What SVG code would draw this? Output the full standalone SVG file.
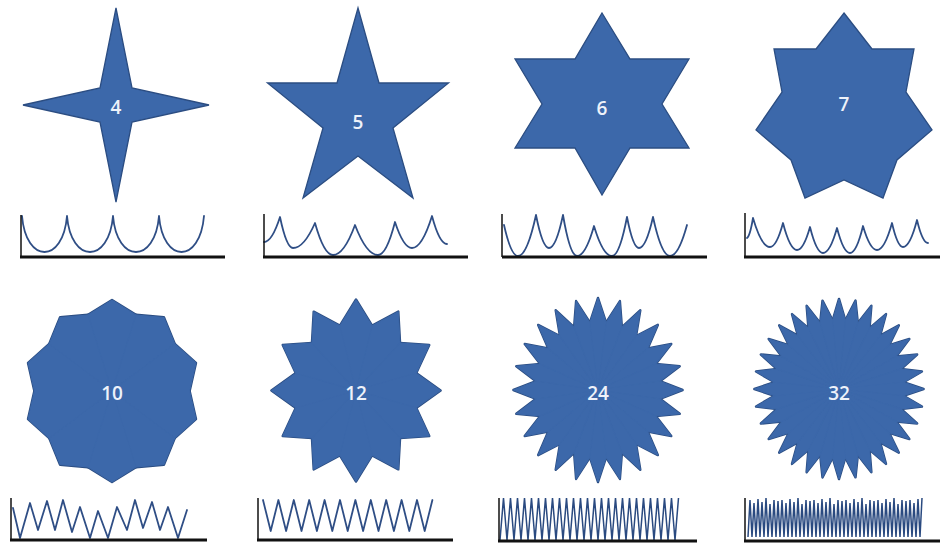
<svg xmlns="http://www.w3.org/2000/svg" xmlns:xlink="http://www.w3.org/1999/xlink" width="940" height="545" viewBox="0 0 940 545">
<style>
.st{fill:#3C68AA;stroke:#2B4D82;stroke-width:1.3;stroke-linejoin:miter}
.ol{fill:#2B4D82;stroke:#2B4D82;stroke-width:2.6;stroke-linejoin:round}
.fl{fill:#3C68AA;stroke:#3C68AA;stroke-width:1;stroke-linejoin:round}
.lbl{font-family:"Open Sans","Liberation Sans",Arial,sans-serif;font-size:19px;font-weight:600;fill:#EEF2FA;text-anchor:middle}
.crv{fill:none;stroke:#2F4E85;stroke-width:1.8;stroke-linejoin:round;stroke-linecap:round}
.dense{fill:none;stroke:#2A4A80;stroke-width:1.5;stroke-linejoin:miter}
.ax{fill:none;stroke:#111;stroke-width:3}
.ay{fill:none;stroke:#111;stroke-width:1.5}
</style>
<defs>
<polygon id="k10" points="0,-91 24.72,-76.09 0,0 -24.72,-76.09"/>
<polygon id="k12" points="0,-91 17.34,-64.73 0,0 -17.34,-64.73"/>
<polygon id="k24" points="0,-92 8.87,-67.42 0,0 -8.87,-67.42"/>
<polygon id="k32" points="0,-90 6.76,-68.67 0,0 -6.76,-68.67"/>
<g id="h10"><use href="#k10"/><use href="#k10" transform="rotate(36)"/><use href="#k10" transform="rotate(72)"/><use href="#k10" transform="rotate(108)"/><use href="#k10" transform="rotate(144)"/></g>
<g id="s10"><use href="#h10"/><use href="#h10" transform="rotate(180)"/></g>
<g id="q12"><use href="#k12"/><use href="#k12" transform="rotate(30)"/><use href="#k12" transform="rotate(60)"/></g>
<g id="s12"><use href="#q12"/><use href="#q12" transform="rotate(90)"/><use href="#q12" transform="rotate(180)"/><use href="#q12" transform="rotate(270)"/></g>
<g id="q24"><use href="#k24"/><use href="#k24" transform="rotate(15)"/><use href="#k24" transform="rotate(30)"/><use href="#k24" transform="rotate(45)"/><use href="#k24" transform="rotate(60)"/><use href="#k24" transform="rotate(75)"/></g>
<g id="s24"><use href="#q24"/><use href="#q24" transform="rotate(90)"/><use href="#q24" transform="rotate(180)"/><use href="#q24" transform="rotate(270)"/></g>
<g id="q32"><use href="#k32"/><use href="#k32" transform="rotate(11.25)"/><use href="#k32" transform="rotate(22.5)"/><use href="#k32" transform="rotate(33.75)"/><use href="#k32" transform="rotate(45)"/><use href="#k32" transform="rotate(56.25)"/><use href="#k32" transform="rotate(67.5)"/><use href="#k32" transform="rotate(78.75)"/></g>
<g id="s32"><use href="#q32"/><use href="#q32" transform="rotate(90)"/><use href="#q32" transform="rotate(180)"/><use href="#q32" transform="rotate(270)"/></g>
</defs>
<rect width="940" height="545" fill="#ffffff"/>

<g id="star4">
<polygon class="st" points="116,8 132,88 209,105 132,122 116,202 100,122 23,105 100,88"/>
<text class="lbl" x="116" y="114">4</text>
</g>
<g id="star5">
<polygon class="st" points="358,8 379,83 448.5,83 393,128 413,198 358,156 303,198 323,128 267.5,83 337,83"/>
<text class="lbl" x="358" y="129">5</text>
</g>
<g id="star6">
<polygon class="st" points="602,13 630,59 689,59 662,104 689,148 630,148 602,195 575,148 515,148 542,104 515,59 575,59"/>
<text class="lbl" x="602" y="115">6</text>
</g>
<g id="star7">
<polygon class="st" points="844,13 872,49 914,49 906,92 932,130 897,160 883,198 844,180 805,198 791,160 756,130 782,92 774,49 816,49"/>
<text class="lbl" x="844" y="111">7</text>
</g>

<g id="star10">
<g transform="translate(112,391) scale(0.97,1)"><use href="#s10" class="ol"/><use href="#s10" class="fl"/></g>
<text class="lbl" x="112" y="400">10</text>
</g>
<g id="star12">
<g transform="translate(356,390.5) scale(0.93,1)"><use href="#s12" class="ol"/><use href="#s12" class="fl"/></g>
<text class="lbl" x="356" y="400">12</text>
</g>
<g id="star24">
<g transform="translate(598,390) scale(0.92,1)"><use href="#s24" class="ol"/><use href="#s24" class="fl"/></g>
<text class="lbl" x="598" y="400">24</text>
</g>
<g id="star32">
<g transform="translate(839,389) scale(0.94,1)"><use href="#s32" class="ol"/><use href="#s32" class="fl"/></g>
<text class="lbl" x="839" y="400">32</text>
</g>

<g id="plot4">
<path class="crv" d="M22,216 C26,264 63,264 67,216 C71,264 109,264 113,216 C117,264 155,264 159,216 C163,264 200,264 204,216"/>
<path class="ay" d="M21,215 V257"/>
<path class="ax" d="M20,257 H225"/>
</g>
<g id="plot5">
<path class="crv" d="M264,242 Q272,242 280,217 Q286.5,248 293,248 Q304,248 315,223 Q324,255 333,255 Q344,255 355,225 Q366.5,255 378,255 Q386.5,255 395,222 Q403.5,248 412,248 Q422,248 432,216 Q439.5,244 447,244"/>
<path class="ay" d="M264,214 V257"/>
<path class="ax" d="M263,257 H468"/>
</g>
<g id="plot6">
<path class="crv" d="M504,225 Q511,256 518,256 Q527,256 536,215 Q542.5,248 549,248 Q556,248 563,215 Q570,256 577,256 Q585.5,256 594,226 Q603,256 612,256 Q619.5,256 627,217 Q633,248 639,248 Q646,248 653,217 Q661.5,256 670,256 Q678.5,256 687,225"/>
<path class="ay" d="M502,214 V257"/>
<path class="ax" d="M502,257 H707"/>
</g>
<g id="plot7">
<path class="crv" d="M747,238 Q750,236 753,218 Q761.5,247 770,247 Q776.5,247 783,223 Q790,250 797,250 Q803.5,250 810,227 Q816.5,253 823,253 Q830,253 837,228 Q843.5,253 850,253 Q856.5,253 863,226 Q870,250 877,250 Q884.5,250 892,223 Q897.5,247 903,247 Q910,247 917,220 Q922.5,243 928,243"/>
<path class="ay" d="M745,213 V257"/>
<path class="ax" d="M744,257 H940"/>
</g>
<g id="plot10">
<polyline class="crv" points="13,508 20,538 30,503 38,530 47,501 55,530 63,500 72,532 80,507 90,538 98,511 108,538 117,507 127,530 135,500 143,528 152,502 160,530 168,507 178,538 187,510"/>
<path class="ay" d="M11,498 V540"/>
<path class="ax" d="M10,540 H207"/>
</g>
<g id="plot12">
<polyline class="crv" points="263,500 270.7,531 278.4,500 286.1,531 293.8,500 301.5,531 309.2,500 316.9,531 324.6,500 332.3,531 340,500 347.7,531 355.4,500 363.1,531 370.8,500 378.5,531 386.2,500 393.9,531 401.6,500 409.3,531 417,500 424.7,531 432.4,500"/>
<path class="ay" d="M258,498 V540"/>
<path class="ax" d="M257,540 H453"/>
</g>
<g id="plot24">
<polyline class="dense" points="500,540 503.5,498 507,540 510.5,498 514,540 517.5,498 521,540 524.5,498 528,540 531.5,498 535,540 538.5,498 542,540 545.5,498 549,540 552.5,498 556,540 559.5,498 563,540 566.5,498 570,540 573.5,498 577,540 580.5,498 584,540 587.5,498 591,540 594.5,498 598,540 601.5,498 605,540 608.5,498 612,540 615.5,498 619,540 622.5,498 626,540 629.5,498 633,540 636.5,498 640,540 643.5,498 647,540 650.5,498 654,540 657.5,498 661,540 664.5,498 668,540 671.5,498 675,540 678.5,498"/>
<path class="ay" d="M499,498 V541"/>
<path class="ax" d="M498,541 H697"/>
</g>
<g id="plot32">
<polyline class="dense" points="748,537 750,500 752,537 754,503 756,537 758,499 760,537 762,502 764,537 766,498 768,537 770,504 772,537 774,500 776,537 778,501 780,537 782,500 784,537 786,503 788,537 790,499 792,537 794,502 796,537 798,498 800,537 802,504 804,537 806,500 808,537 810,501 812,537 814,500 816,537 818,503 820,537 822,499 824,537 826,502 828,537 830,498 832,537 834,504 836,537 838,500 840,537 842,501 844,537 846,500 848,537 850,503 852,537 854,499 856,537 858,502 860,537 862,498 864,537 866,504 868,537 870,500 872,537 874,501 876,537 878,500 880,537 882,503 884,537 886,499 888,537 890,502 892,537 894,498 896,537 898,504 900,537 902,500 904,537 906,501 908,537 910,500 912,537 914,503 916,537 918,499 920,537 922,498"/>
<path class="ay" d="M745,498 V541"/>
<path class="ax" d="M744,541 H940"/>
</g>
</svg>
